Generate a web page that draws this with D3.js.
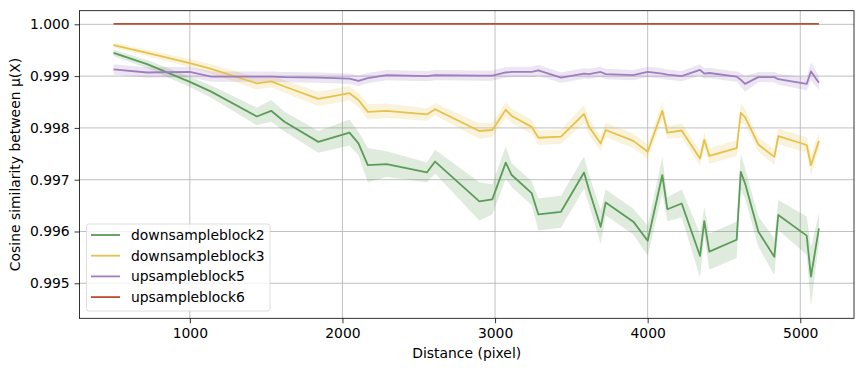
<!DOCTYPE html>
<html><head><meta charset="utf-8">
<script src="https://cdn.jsdelivr.net/npm/d3@7"></script>
<style>
html,body{margin:0;padding:0;background:#fff;}
svg{display:block;font-family:"DejaVu Sans",sans-serif;}
</style></head>
<body>
<svg id="chart" width="864" height="371"></svg>
<script>
const distances = [500, 720, 1000, 1140, 1439, 1533, 1620, 1842, 2046, 2105, 2166, 2290, 2553, 2607, 2897, 2982, 3070, 3109, 3240, 3284, 3432, 3583, 3616, 3692, 3725, 3906, 4000, 4096, 4129, 4223, 4343, 4371, 4404, 4583, 4610, 4638, 4725, 4830, 4856, 5042, 5070, 5122];

const seriesNames = ["downsampleblock2", "downsampleblock3", "upsampleblock5", "upsampleblock6"];
const seriesColors = ["#5b9c57", "#e6c24a", "#a07cc0", "#bd4f2f"];

const down2 = [0.99945, 0.99923, 0.99889, 0.99870, 0.99822, 0.99833, 0.99812, 0.99773, 0.99791, 0.99770, 0.99728, 0.99730, 0.99714, 0.99735, 0.99658, 0.99662, 0.99733, 0.99709, 0.99674, 0.99633, 0.99638, 0.99714, 0.99680, 0.99609, 0.99656, 0.99619, 0.99582, 0.99709, 0.99643, 0.99654, 0.99553, 0.99620, 0.99561, 0.99584, 0.99715, 0.99693, 0.99600, 0.99551, 0.99632, 0.99592, 0.99513, 0.99606];
const down3 = [0.99960, 0.99945, 0.99925, 0.99914, 0.99886, 0.99890, 0.99880, 0.99856, 0.99867, 0.99854, 0.99831, 0.99833, 0.99826, 0.99836, 0.99794, 0.99796, 0.99835, 0.99823, 0.99802, 0.99781, 0.99783, 0.99827, 0.99802, 0.99770, 0.99796, 0.99775, 0.99754, 0.99833, 0.99791, 0.99795, 0.99741, 0.99777, 0.99746, 0.99761, 0.99829, 0.99821, 0.99768, 0.99744, 0.99784, 0.99767, 0.99728, 0.99775];
const up5 = [0.99913, 0.99907, 0.99908, 0.99899, 0.99899, 0.99899, 0.99898, 0.99897, 0.99895, 0.99891, 0.99896, 0.99902, 0.99900, 0.99902, 0.99901, 0.99901, 0.99907, 0.99908, 0.99908, 0.99911, 0.99897, 0.99905, 0.99904, 0.99908, 0.99904, 0.99902, 0.99908, 0.99905, 0.99903, 0.99900, 0.99912, 0.99905, 0.99906, 0.99899, 0.99893, 0.99885, 0.99898, 0.99898, 0.99894, 0.99885, 0.99909, 0.99887];
const up6 = [1.00001, 1.00001, 1.00001, 1.00001, 1.00001, 1.00001, 1.00001, 1.00001, 1.00001, 1.00001, 1.00001, 1.00001, 1.00001, 1.00001, 1.00001, 1.00001, 1.00001, 1.00001, 1.00001, 1.00001, 1.00001, 1.00001, 1.00001, 1.00001, 1.00001, 1.00001, 1.00001, 1.00001, 1.00001, 1.00001, 1.00001, 1.00001, 1.00001, 1.00001, 1.00001, 1.00001, 1.00001, 1.00001, 1.00001, 1.00001, 1.00001, 1.00001];

// confidence band half-widths, in units of 1e-4
const down2Err = [0.6, 0.8, 1.0, 1.2, 1.7, 2.1, 1.9, 2.1, 2.5, 2.3, 3.3, 2.5, 1.9, 2.3, 3.7, 2.9, 3.1, 2.3, 2.3, 3.1, 3.1, 3.1, 2.9, 3.3, 2.5, 2.5, 2.9, 3.5, 2.3, 2.7, 4.2, 2.7, 3.5, 3.5, 3.5, 2.9, 2.9, 3.5, 2.9, 3.7, 5.6, 2.9];
const down3Err = [0.5, 0.6, 0.8, 0.9, 1.2, 1.2, 1.2, 1.4, 1.4, 1.4, 1.5, 1.4, 1.2, 1.2, 1.5, 1.4, 1.5, 1.4, 1.4, 1.4, 1.4, 1.7, 1.5, 1.5, 1.4, 1.4, 1.4, 1.7, 1.2, 1.4, 1.5, 1.5, 1.5, 1.5, 1.9, 1.5, 1.4, 1.5, 1.5, 1.5, 2.1, 1.5];
const up5Err = [1.0, 1.0, 1.0, 1.0, 1.0, 1.0, 1.0, 1.0, 1.0, 1.0, 1.0, 1.0, 1.0, 1.0, 1.0, 1.0, 1.0, 1.0, 1.0, 1.1, 1.0, 1.0, 1.0, 1.0, 1.0, 1.0, 1.0, 1.0, 1.0, 1.0, 1.1, 1.0, 1.0, 1.0, 1.3, 1.5, 1.0, 1.0, 1.0, 1.3, 1.7, 1.3];
const up6Err = [0.05, 0.05, 0.05, 0.05, 0.05, 0.05, 0.05, 0.05, 0.05, 0.05, 0.05, 0.05, 0.05, 0.05, 0.05, 0.05, 0.05, 0.05, 0.05, 0.05, 0.05, 0.05, 0.05, 0.05, 0.05, 0.05, 0.05, 0.05, 0.05, 0.05, 0.05, 0.05, 0.05, 0.05, 0.05, 0.05, 0.05, 0.05, 0.05, 0.05, 0.05, 0.05];

const xTicks = [1000, 2000, 3000, 4000, 5000];
const yTicks = [0.995, 0.996, 0.997, 0.998, 0.999, 1.000];
const xLabel = "Distance (pixel)";
const yLabel = "Cosine similarity between μ(X)";

const seriesValues = [down2, down3, up5, up6];
const seriesErr = [down2Err, down3Err, up5Err, up6Err];

const FS = "13.9px";
const L = 79.5, R = 854, T = 10.7, B = 318.3;
const svg = d3.select("#chart");

const x = d3.scaleLinear().domain([277, 5352]).range([L, R]);
const y = d3.scaleLinear().domain([0.994324, 1.000263]).range([B, T]);

// grid
const g = svg.append("g");
g.selectAll(".gx").data(xTicks).join("line")
  .attr("x1", d => x(d)).attr("x2", d => x(d)).attr("y1", T).attr("y2", B)
  .attr("stroke", "#b0b0b0").attr("stroke-width", 0.8);
g.selectAll(".gy").data(yTicks).join("line")
  .attr("y1", d => y(d)).attr("y2", d => y(d)).attr("x1", L).attr("x2", R)
  .attr("stroke", "#b0b0b0").attr("stroke-width", 0.8);

svg.append("defs").append("clipPath").attr("id", "clip")
  .append("rect").attr("x", L).attr("y", T).attr("width", R - L).attr("height", B - T);

const plot = svg.append("g").attr("clip-path", "url(#clip)");

seriesValues.forEach((vals, si) => {
  const data = distances.map((d, i) => ({x: d, y: vals[i], e: seriesErr[si][i] * 1e-4}));
  const area = d3.area().x(d => x(d.x)).y0(d => y(d.y - d.e)).y1(d => y(d.y + d.e));
  plot.append("path").datum(data).attr("d", area)
    .attr("fill", seriesColors[si]).attr("fill-opacity", 0.2).attr("stroke", "none");
});
seriesValues.forEach((vals, si) => {
  const data = distances.map((d, i) => ({x: d, y: vals[i]}));
  const line = d3.line().x(d => x(d.x)).y(d => y(d.y));
  plot.append("path").datum(data).attr("d", line)
    .attr("fill", "none").attr("stroke", seriesColors[si]).attr("stroke-width", 1.8)
    .attr("stroke-linejoin", "round");
});

// axes
const xAxis = d3.axisBottom(x).tickValues(xTicks).tickSize(4.9).tickPadding(4.9).tickFormat(d3.format("d"));
const yAxis = d3.axisLeft(y).tickValues(yTicks).tickSize(4.9).tickPadding(4.9).tickFormat(d3.format(".3f"));
const gx = svg.append("g").attr("transform", `translate(0,${B})`).call(xAxis);
const gy = svg.append("g").attr("transform", `translate(${L},0)`).call(yAxis);
[gx, gy].forEach(a => {
  a.select(".domain").remove();
  a.selectAll(".tick line").attr("stroke", "#000").attr("stroke-width", 0.8);
  a.selectAll(".tick text").attr("fill", "#000").style("font-size", FS).style("font-family", "DejaVu Sans");
});

// frame
svg.append("rect").attr("x", L).attr("y", T).attr("width", R - L).attr("height", B - T)
  .attr("fill", "none").attr("stroke", "#000").attr("stroke-width", 0.8);

svg.append("text").attr("x", (L + R) / 2).attr("y", 357.5)
  .attr("text-anchor", "middle").style("font-size", FS).text(xLabel);
svg.append("text").attr("transform", `translate(20,${(T + B) / 2}) rotate(-90)`)
  .attr("text-anchor", "middle").style("font-size", FS).text(yLabel);

// legend
const lg = svg.append("g");
lg.append("rect").attr("x", 86.5).attr("y", 224).attr("width", 183.5).attr("height", 87).attr("rx", 2.5)
  .attr("fill", "#fff").attr("fill-opacity", 0.8).attr("stroke", "#d5d5d5").attr("stroke-width", 0.8);
seriesNames.forEach((n, i) => {
  const cy = 235 + i * 20.7;
  lg.append("line").attr("x1", 91).attr("x2", 120).attr("y1", cy).attr("y2", cy)
    .attr("stroke", seriesColors[i]).attr("stroke-width", 1.8);
  lg.append("text").attr("x", 131).attr("y", cy + 5).style("font-size", FS).text(n);
});
</script>
</body></html>
